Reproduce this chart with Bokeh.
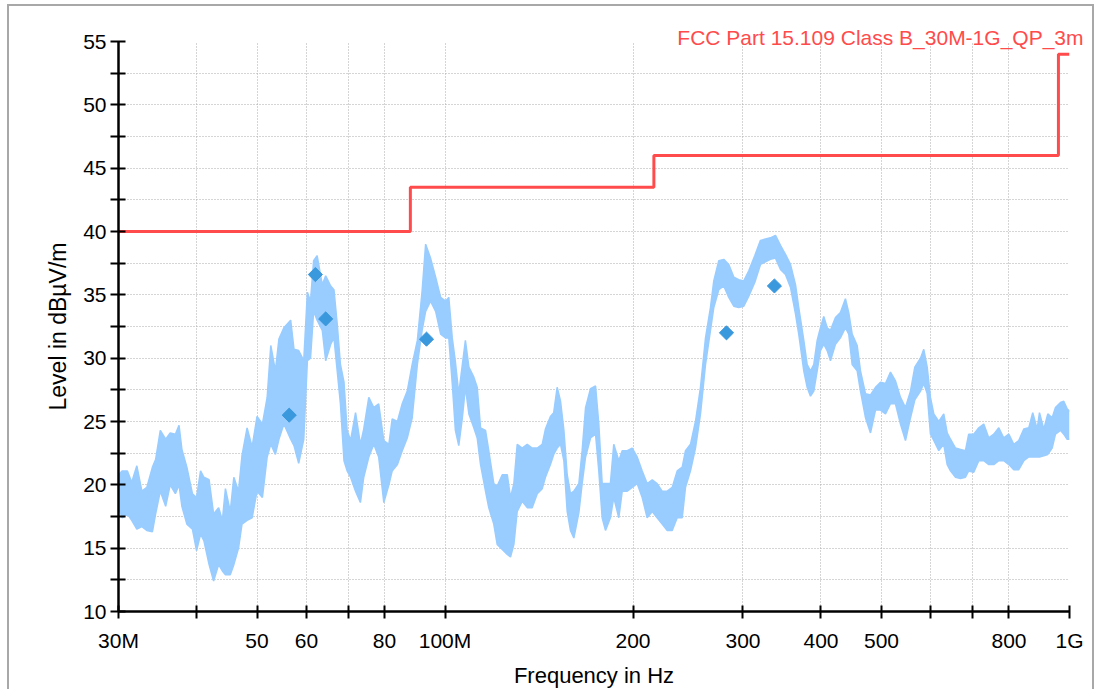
import math
from bokeh.plotting import figure
from bokeh.models import FixedTicker, LinearAxis, Range1d
from bokeh.embed import file_html
from bokeh.resources import INLINE

# ---------------- data ----------------
# measured trace (MHz, upper and lower edge of the noisy trace in dBuV/m)
freq_mhz = [30.0, 30.4, 31.0, 31.5, 32.1, 32.7, 33.3, 34.0, 34.4, 35.0, 35.7, 36.3, 37.0, 37.5, 37.9,
            38.6, 39.4, 40.0, 40.6, 41.1, 41.9, 42.6, 43.4, 44.0, 44.5, 45.3, 45.9, 46.7, 47.3, 48.2,
            49.1, 50.0, 51.0, 51.9, 52.6, 53.5, 54.2, 55.2, 56.6, 57.3, 58.3, 59.4, 60.2, 60.9, 61.6,
            62.4, 63.6, 64.4, 65.6, 66.4, 67.2, 68.0, 68.9, 69.7, 70.6, 71.9, 73.2, 74.1, 75.5, 76.9,
            78.3, 79.8, 81.3, 82.3, 83.9, 85.4, 87.0, 88.6, 90.3, 91.9, 93.1, 94.8, 96.6, 98.4, 100.2,
            101.4, 102.7, 103.9, 105.2, 106.6, 107.8, 109.2, 111.2, 112.6, 114.0, 116.1, 117.5, 119.7,
            121.2, 123.5, 125.8, 127.3, 128.9, 130.5, 132.9, 135.4, 137.9, 140.5, 143.1, 144.8, 147.5,
            149.3, 151.2, 153.1, 155.0, 156.9, 158.8, 160.8, 163.8, 165.8, 167.9, 171.0, 174.2, 176.3,
            178.5, 180.7, 184.0, 186.3, 189.8, 192.2, 195.8, 199.4, 203.1, 206.9, 210.7, 214.7, 218.6,
            222.7, 226.9, 231.1, 235.4, 239.8, 242.7, 247.2, 251.8, 256.5, 261.3, 266.1, 269.4, 274.4,
            279.5, 284.7, 290.0, 295.4, 300.9, 306.5, 313.4, 320.0, 325.9, 332.0, 338.2, 344.5, 350.9,
            357.4, 364.1, 368.5, 375.4, 380.1, 384.8, 389.5, 394.4, 399.2, 404.1, 409.2, 414.2, 421.9,
            429.7, 437.7, 443.1, 448.7, 457.1, 462.7, 471.3, 480.1, 489.0, 498.1, 507.4, 516.8, 526.4,
            536.2, 546.2, 556.4, 565.3, 577.3, 584.3, 591.7, 598.9, 606.3, 617.6, 629.0, 637.0, 644.8,
            656.8, 669.0, 681.4, 689.6, 702.6, 715.7, 729.0, 742.6, 756.4, 770.5, 784.8, 799.4, 814.3,
            829.4, 844.9, 860.6, 873.2, 887.6, 895.2, 909.6, 923.1, 938.1, 949.6, 967.3, 979.1, 991.4,
            1000.0]
level_hi = [20.8, 21.1, 21.1, 20.2, 21.5, 19.5, 19.8, 21.4, 22.0, 24.3, 23.6, 24.1, 24.0, 24.7, 22.8,
            21.4, 19.3, 19.0, 21.1, 20.6, 20.4, 17.7, 18.2, 17.2, 19.7, 17.9, 20.6, 19.5, 22.3, 24.5,
            23.0, 25.4, 24.8, 26.9, 31.0, 29.0, 31.5, 32.4, 33.0, 30.7, 30.6, 29.8, 35.2, 34.5, 37.7,
            38.1, 35.8, 36.5, 35.7, 35.4, 32.7, 29.5, 28.1, 24.3, 23.5, 25.7, 23.2, 24.4, 26.9, 26.1,
            26.4, 23.5, 23.2, 25.2, 25.0, 26.4, 27.4, 29.5, 31.4, 35.3, 39.0, 37.9, 36.4, 34.8, 34.5,
            34.8, 31.6, 29.7, 27.2, 29.5, 31.4, 29.3, 28.5, 27.7, 24.5, 24.3, 22.7, 20.1,
            19.9, 20.8, 20.8, 19.0, 20.1, 23.2, 22.9, 23.2, 22.9, 22.9, 23.2, 24.4, 25.4,
            25.7, 27.7, 26.6, 24.3, 20.8, 19.3, 19.5, 20.1, 22.7, 26.1, 27.6, 27.8, 24.8,
            20.1, 20.1, 20.1, 23.2, 21.9, 22.7, 22.7, 22.9, 22.2, 21.1, 20.1, 20.4, 20.1,
            19.5, 19.5, 19.8, 21.1, 21.4, 22.7, 23.2, 25.0, 27.7, 31.6, 34.0, 36.1, 37.7,
            37.8, 37.4, 36.4, 36.2, 36.1, 36.9, 38.1, 39.3, 39.4, 39.5, 39.7, 38.9, 38.2,
            37.4, 35.8, 34.0, 31.4, 29.5, 29.0, 29.5, 31.4, 32.4, 33.3, 32.4, 32.2, 33.2,
            33.6, 34.7, 33.6, 31.9, 31.0, 29.0, 27.2, 27.1, 27.7, 28.1, 28.0, 28.9, 28.2,
            26.9, 26.1, 27.4, 29.3, 30.0, 30.7, 29.3, 26.9, 25.6, 25.0, 25.6, 24.1, 23.6,
            22.9, 22.8, 22.7, 24.0, 24.0, 24.5, 24.8, 23.7, 24.0, 24.5, 23.7, 24.0, 23.2,
            23.5, 24.4, 24.5, 25.7, 24.4, 25.7, 24.4, 25.6, 25.3, 26.1, 26.5, 26.6, 26.0,
            25.8]
level_lo = [18.2, 17.4, 17.7, 17.2, 16.5, 16.7, 16.4, 16.3, 17.7, 19.5, 18.3, 20.0, 19.3, 20.0, 18.3,
            16.9, 16.5, 14.8, 16.1, 15.6, 13.7, 12.4, 13.7, 13.2, 12.9, 12.9, 13.7, 15.0, 16.9, 17.2,
            17.4, 19.5, 19.0, 22.2, 23.2, 22.4, 23.6, 24.8, 23.6, 23.1, 21.7, 23.6, 29.8, 30.0, 33.7,
            33.0, 32.2, 29.8, 31.1, 31.6, 29.0, 26.4, 21.9, 21.1, 20.6, 19.5, 18.6, 20.6, 22.2, 23.2,
            22.2, 18.6, 20.0, 21.1, 21.6, 22.7, 23.7, 25.3, 29.5, 32.2, 33.7, 34.5, 33.7, 31.9, 31.6,
            31.6, 28.0, 24.3, 23.1, 25.3, 27.7, 25.6, 24.5, 23.7, 21.6, 19.5, 18.2, 16.9,
            15.3, 14.9, 14.5, 14.3, 15.3, 17.9, 18.7, 18.2, 18.2, 19.3, 19.7, 20.6, 21.6,
            22.4, 22.9, 23.2, 21.9, 17.9, 16.4, 15.8, 17.8, 20.1, 22.2, 23.7, 24.0, 21.1,
            17.4, 16.4, 17.4, 19.0, 17.4, 19.5, 19.5, 19.8, 20.1, 19.0, 17.4, 17.9, 17.4,
            16.9, 16.4, 16.4, 17.4, 17.4, 19.8, 21.1, 22.9, 25.6, 29.5, 32.2, 34.0, 35.4,
            35.7, 34.8, 34.1, 34.0, 34.1, 34.9, 36.0, 37.4, 37.6, 37.8, 37.9, 37.0, 36.6,
            35.6, 33.5, 31.9, 29.0, 27.7, 27.0, 27.4, 29.0, 30.6, 31.1, 30.6, 29.8, 31.1,
            31.6, 32.4, 31.9, 29.5, 29.0, 27.4, 25.3, 24.1, 25.9, 25.9, 25.6, 26.4, 26.4,
            24.8, 23.5, 25.3, 26.7, 27.4, 28.0, 27.2, 24.0, 23.5, 22.7, 23.2, 21.6, 21.1,
            20.6, 20.5, 20.6, 21.1, 21.0, 21.9, 21.9, 21.6, 21.6, 21.9, 21.9, 21.6, 21.2,
            21.2, 21.9, 22.2, 22.2, 22.2, 22.2, 22.3, 22.4, 22.9, 24.0, 24.3, 24.0, 23.6,
            23.6]

# quasi-peak final measurement points
qp_freq = [56.3, 62.0, 64.4, 93.4, 282.3, 336.9]
qp_level = [25.5, 36.6, 33.1, 31.5, 32.0, 35.7]

# FCC Part 15.109 Class B limit (3 m)
limit_edges = [30, 88, 216, 960, 1000]
limit_values = [40.0, 43.5, 46.0, 54.0]
limit_name = "FCC Part 15.109 Class B_30M-1G_QP_3m"

x_ticks = [30, 40, 50, 60, 70, 80, 100, 200, 300, 400, 500, 600, 700, 800, 1000]
x_tick_labels = ["30M", "", "50", "60", "", "80", "100M", "200", "300", "400", "500", "", "", "800", "1G"]
y_major = [10, 15, 20, 25, 30, 35, 40, 45, 50, 55]
y_minor = [12.5, 17.5, 22.5, 27.5, 32.5, 37.5, 42.5, 47.5, 52.5]

# ---------------- figure ----------------
FONT = "Liberation Sans"
p = figure(width=1087, height=685, x_axis_type="log",
           x_range=Range1d(30, 1000), y_range=Range1d(10, 55),
           output_backend="svg", toolbar_location=None,
           min_border_left=109, min_border_right=27, min_border_top=35, min_border_bottom=80)
p.styles = {"margin-left": "7px", "margin-top": "4px",
            "border-left": "2px solid #a8a8a8", "border-top": "2px solid #a8a8a8",
            "border-right": "2px solid #a8a8a8"}
p.outline_line_color = None
p.background_fill_color = "white"
p.border_fill_color = "white"

# limit name shown as a right-aligned red caption overlapping the top of the frame
p.title.text = limit_name
p.title.align = "right"
p.title.offset = -14
p.title.standoff = -15
p.title.text_color = "#ff4b4b"
p.title.text_font = FONT
p.title.text_font_size = "21px"
p.title.text_font_style = "normal"

# axes
p.xaxis.ticker = FixedTicker(ticks=x_ticks, minor_ticks=[])
p.xgrid.ticker = FixedTicker(ticks=x_ticks, minor_ticks=[])
p.xaxis.major_label_overrides = {t: l for t, l in zip(x_ticks, x_tick_labels)}
p.yaxis.ticker = FixedTicker(ticks=y_major, minor_ticks=y_minor)

for ax in (p.xaxis, p.yaxis):
    ax.axis_line_width = 2.5
    ax.axis_line_color = "black"
    ax.major_tick_line_width = 2
    ax.minor_tick_line_width = 2
    ax.major_tick_line_color = "black"
    ax.minor_tick_line_color = "black"
    ax.major_label_text_font = FONT
    ax.major_label_text_font_size = "21px"
    ax.major_label_text_color = "black"
p.xaxis.major_tick_in = 6
p.xaxis.major_tick_out = 7
p.xaxis.major_label_standoff = 10
p.xaxis.axis_label = "Frequency in Hz"
p.xaxis.axis_label_standoff = 8
p.xaxis.axis_label_text_font = FONT
p.xaxis.axis_label_text_font_size = "22px"
p.xaxis.axis_label_text_font_style = "normal"
p.xaxis.axis_label_text_color = "black"
p.yaxis.major_tick_in = 7
p.yaxis.major_tick_out = 8
p.yaxis.minor_tick_in = 7
p.yaxis.minor_tick_out = 8
p.yaxis.major_label_standoff = 4

# second (label-only) left axis so the y title sits where the reference has it
ytitle = LinearAxis(axis_label="Level in dBµV/m", bounds=(16.2, 55),
                    ticker=FixedTicker(ticks=[], minor_ticks=[]),
                    axis_line_color=None, major_tick_line_color=None,
                    minor_tick_line_color=None, major_label_text_font_size="0px",
                    axis_label_standoff=10, axis_label_text_font=FONT,
                    axis_label_text_font_size="23px", axis_label_text_font_style="normal",
                    axis_label_text_color="black")
p.add_layout(ytitle, "left")

for g in (p.xgrid, p.ygrid):
    g.grid_line_color = "#aaaaaa"
    g.grid_line_dash = "1 2"
    g.grid_line_width = 1
p.ygrid.minor_grid_line_color = "#aaaaaa"
p.ygrid.minor_grid_line_dash = "1 2"
p.ygrid.minor_grid_line_width = 1

# trace
TRACE = "#99ccff"
p.varea(x=freq_mhz, y1=level_lo, y2=level_hi, fill_color=TRACE)
p.line(freq_mhz, level_hi, line_color=TRACE, line_width=1.5)
p.line(freq_mhz, level_lo, line_color=TRACE, line_width=1.5)

# limit
p.step(x=limit_edges, y=limit_values + [limit_values[-1]], mode="after",
       line_color="#ff4b4b", line_width=3)

# QP markers
p.scatter(qp_freq, qp_level, marker="square", angle=math.pi / 4, size=10,
          fill_color="#3a98dd", line_color="#3a98dd")

open("out.html", "w").write(file_html(p, INLINE))
